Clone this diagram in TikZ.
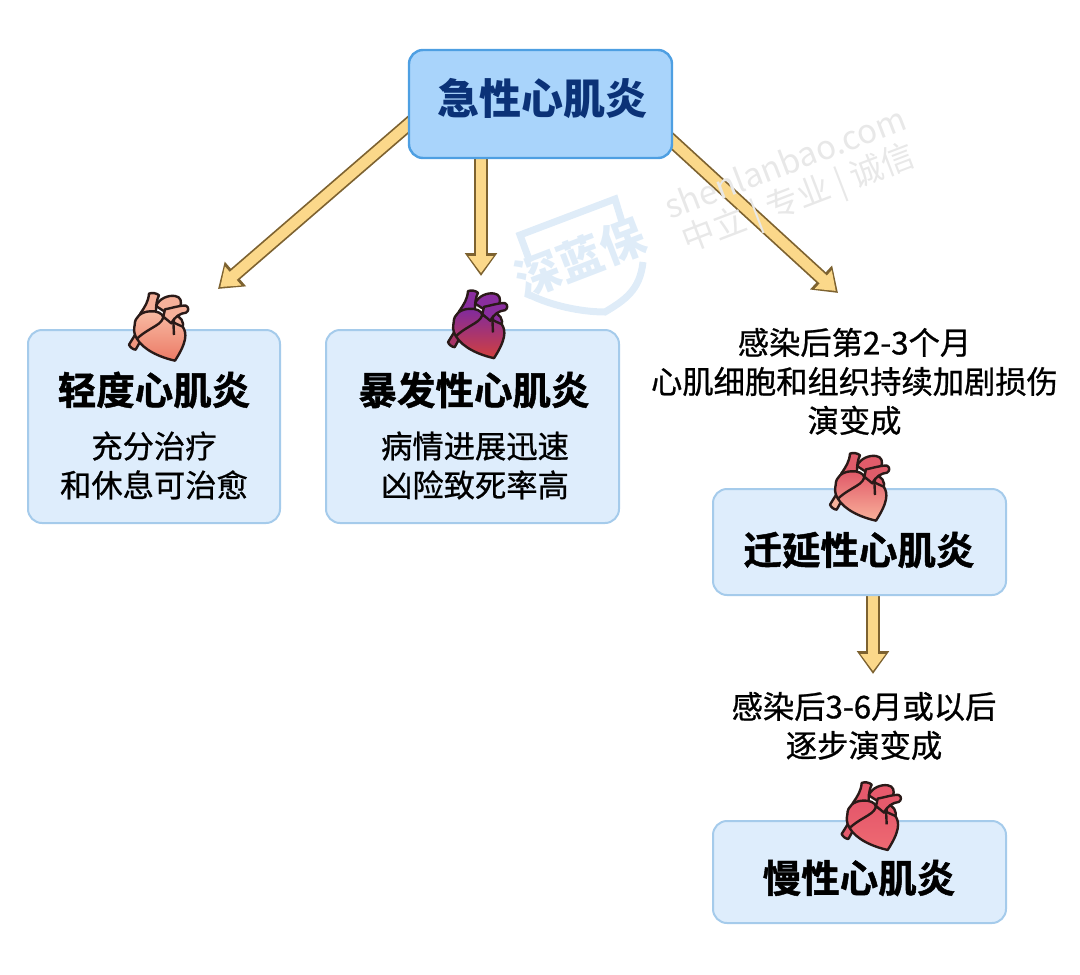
\documentclass[tikz,border=0pt]{standalone}
\usepackage{fontspec}
\usetikzlibrary{arrows.meta,positioning,backgrounds}
\newfontfamily\cjk{Noto Sans CJK SC}
\newfontfamily\cjkmedium[FakeBold=0.8]{Noto Sans CJK SC}
\newfontfamily\cjkbold[FakeBold=1.2]{Noto Sans CJK SC Bold}
\newfontfamily\cjkheavy{Noto Sans CJK SC Black}
\definecolor{titlefill}{HTML}{A9D4FB}
\definecolor{titleline}{HTML}{4E9FE2}
\definecolor{boxfill}{HTML}{DEEDFC}
\definecolor{boxline}{HTML}{A5CBEB}
\definecolor{navy}{HTML}{0B3277}
\definecolor{arrowfill}{HTML}{FBD88A}
\definecolor{arrowline}{HTML}{7D6230}
\definecolor{markgray}{HTML}{E8E8E8}
\definecolor{markblue}{HTML}{DFECF8}
\definecolor{heartline}{HTML}{2A1A18}
% heart colours: upper part, lower part, vessels, lower left vessel
\definecolor{paleUp}{HTML}{F8BCA4}
\definecolor{paleLow}{HTML}{EC7A66}
\definecolor{paleVes}{HTML}{F6B09A}
\definecolor{paleTube}{HTML}{F0967F}
\definecolor{purpleUp}{HTML}{7F2A9E}
\definecolor{purpleLow}{HTML}{D2403F}
\definecolor{purpleVes}{HTML}{8A2E9E}
\definecolor{purpleTube}{HTML}{A83468}
\definecolor{fadeUp}{HTML}{E05868}
\definecolor{fadeLow}{HTML}{F9B09A}
\definecolor{fadeVes}{HTML}{E05C6A}
\definecolor{fadeTube}{HTML}{F8B39C}
\definecolor{redUp}{HTML}{E4566A}
\definecolor{redLow}{HTML}{EE6A72}
\definecolor{redVes}{HTML}{E65A6C}
\newcommand\heart[5]{% origin, then the four colours
\begin{scope}[shift={(#1)},scale=0.3333,line width=2.4pt,draw=heartline,line join=round]
	\draw[fill=#5] (87,224) -- (108,190) -- (126,205) -- (107,239) .. controls (100,239) and (90,232) .. cycle;
	\draw[fill=#4] (120,132) .. controls (135,110) and (145,95) .. (147,71) .. controls (155,67) and (170,69) .. (177,76) .. controls (170,90) and (168,105) .. (168,128) -- cycle;
	\draw[fill=#4] (168,108) .. controls (178,85) and (205,75) .. (225,78) .. controls (242,80) and (247,95) .. (240,112) -- (205,132) -- cycle;
	\draw[fill=#4] (222,138) .. controls (242,133) and (254,160) .. (248,174) -- (222,176) -- cycle;
	\draw[top color=#2,bottom color=#3] (104,165) .. controls (104,140) and (125,125) .. (150,124) .. controls (170,122) and (188,130) .. (190,142) .. controls (205,150) and (225,160) .. (248,170) .. controls (262,190) and (260,218) .. (225,272) .. controls (180,262) and (130,240) .. (110,205) .. controls (100,190) and (102,175) .. (104,165) -- cycle;
	\draw[fill=#4] (195,118) .. controls (215,114) and (245,105) .. (258,107) .. controls (268,112) and (266,124) .. (258,128) .. controls (240,130) and (224,140) .. (214,160) -- (190,140) -- cycle;
	\draw (190,135) .. controls (192,165) and (150,170) .. (112,205);
	\draw (220,152) -- (222,195);
\end{scope}
}
\newcommand\fatarrow[2]{%
\draw[line width=14pt,arrowline,shorten <=-8pt,-{Triangle[length=23pt,width=31pt]}] (#1) -- (#2);
\draw[line width=10.5pt,arrowfill,shorten <=-8pt,shorten >=3pt,-{Triangle[length=17pt,width=24pt]}] (#1) -- (#2);
}
\tikzset{
	bigbox/.style={draw=boxline,fill=boxfill,line width=2pt,rounded corners=14pt,inner sep=0pt},
	headtext/.style={font=\cjkbold\fontsize{38.5}{46}\selectfont,text=black,inner sep=0pt},
	plaintext/.style={font=\cjkmedium\fontsize{31.3}{39}\selectfont,text=black,align=center,inner sep=0pt},
	marktext/.style={font=\cjk\fontsize{33}{38}\selectfont,text=markgray,rotate=21,inner sep=0pt},
}
\begin{document}
\begin{tikzpicture}[x=1pt,y=-1pt]
	\useasboundingbox (0,0) rectangle (1080,975);

	% boxes
	\node[bigbox,draw=titleline,fill=titlefill,line width=2.4pt,minimum width=263pt,minimum height=108pt] (acute) at (540.5,104) {};
	\node[bigbox,minimum width=252pt,minimum height=193pt] (mild) at (154,426.5) {};
	\node[bigbox,minimum width=293pt,minimum height=193pt] (fulminant) at (472.5,426.5) {};
	\node[bigbox,minimum width=293pt,minimum height=106pt] (lingering) at (859.5,542) {};
	\node[bigbox,minimum width=293pt,minimum height=102pt] (chronic) at (859.5,872) {};

	% arrow tips
	\coordinate (tipMild) at (218,289);
	\coordinate (tipFulminant) at (481,276);
	\coordinate (tipLingering) at (838,293);
	\coordinate (tipChronic) at (873,674);

	\begin{scope}[on background layer]
	\fatarrow{acute.189.1}{tipMild}
	\fatarrow{acute.south -| tipFulminant}{tipFulminant}
	\fatarrow{acute.344.9}{tipLingering}
	\fatarrow{lingering.south -| tipChronic}{tipChronic}
	\end{scope}

	% texts
	\node[font=\cjkheavy\fontsize{42}{50}\selectfont,text=navy,inner sep=0pt] (acuteText) at (542.5,99) {急性心肌炎};
	\node[headtext] (mildText) at (154,390) {轻度心肌炎};
	\node[plaintext] (mildNote) at (154,465.5) {充分治疗\\和休息可治愈};
	\node[headtext] (fulminantText) at (474,390) {暴发性心肌炎};
	\node[plaintext] (fulminantNote) at (475,465.5) {病情进展迅速\\凶险致死率高};
	\node[plaintext] (lingeringNote) at (854.5,381.5) {感染后第2-3个月\\心肌细胞和组织持续加剧损伤\\演变成};
	\node[headtext] (lingeringText) at (859,550) {迁延性心肌炎};
	\node[plaintext] (chronicNote) at (864,726) {感染后3-6月或以后\\逐步演变成};
	\node[headtext] (chronicText) at (859,878) {慢性心肌炎};

	% hearts
	\heart{100,270}{paleUp}{paleLow}{paleVes}{paleTube}
	\heart{419,267.5}{purpleUp}{purpleLow}{purpleVes}{purpleTube}
	\heart{801,430}{fadeUp}{fadeLow}{fadeVes}{fadeTube}
	\heart{812.7,759.3}{redUp}{redLow}{redVes}{redVes}

	% watermark
	\node[marktext] (markSite) at (785,162) {shenlanbao.com};
	\node[marktext] (markWords) at (799,200) {中立\ |\ 专业\ |\ 诚信};
	\draw[markblue,line width=7pt] (622,222) -- (615,199) -- (520,235) -- (530,262);
	\draw[markblue,line width=7pt] (643,262) .. controls (640,290) and (625,300) .. (605,312) .. controls (580,312) and (550,305) .. (530,295);
	\node[font=\cjkheavy\fontsize{45}{50}\selectfont,text=markblue,rotate=21,inner sep=0pt] (markLogo) at (580,258) {深蓝保};
\end{tikzpicture}
\end{document}
